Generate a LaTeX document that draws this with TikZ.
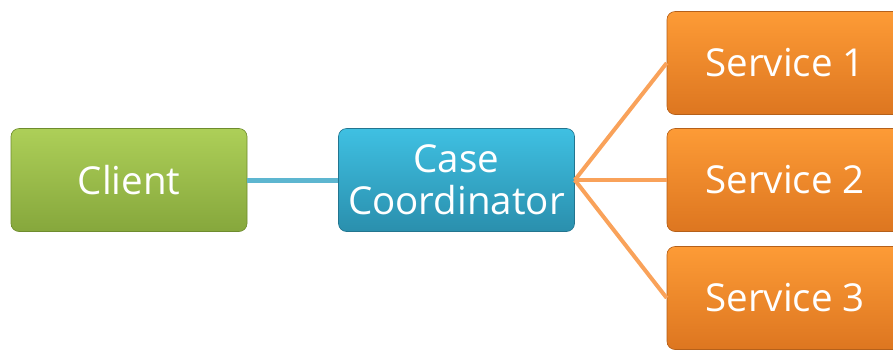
\documentclass[tikz,border=0pt]{standalone}
\usepackage{fontspec}
\setmainfont{Open Sans}
\definecolor{gtop}{HTML}{ADCF58}
\definecolor{gbot}{HTML}{86A73C}
\definecolor{gedge}{HTML}{6E8C2E}
\definecolor{btop}{HTML}{3FC0E2}
\definecolor{bbot}{HTML}{2A8FAD}
\definecolor{bedge}{HTML}{23758F}
\definecolor{otop}{HTML}{FD9B36}
\definecolor{obot}{HTML}{DD7620}
\definecolor{oedge}{HTML}{B5601A}
\definecolor{bline}{HTML}{5DB6D0}
\definecolor{oline}{HTML}{F9A25A}
\begin{document}
\begin{tikzpicture}[x=1pt,y=-1pt,
  box/.style={rounded corners=8pt, minimum width=236pt, minimum height=103pt,
    inner sep=0pt, text=white, align=center,
    font=\fontsize{38.5}{42}\selectfont},
  greenbox/.style={box, top color=gtop, bottom color=gbot, draw=gedge, line width=0.6pt},
  bluebox/.style={box, top color=btop, bottom color=bbot, draw=bedge, line width=0.6pt},
  orangebox/.style={box, top color=otop, bottom color=obot, draw=oedge, line width=0.6pt},
  bconn/.style={draw=bline, line width=5pt},
  oconn/.style={draw=oline, line width=4pt}]
\useasboundingbox (0,0) rectangle (893,349);
\begin{scope}
\clip (0,0) rectangle (893,349);
\node[greenbox] (client) at (129,180) {Client};
\node[bluebox] (coord) at (456.5,180) {Case\\Coordinator};
\node[orangebox] (s1) at (785,63) {Service 1};
\node[orangebox] (s2) at (785,180) {Service 2};
\node[orangebox] (s3) at (785,298) {Service 3};
\end{scope}
\path[bconn] (client.east) -- (coord.west);
\path[oconn] (coord.east) -- (s1.west);
\path[oconn] (coord.east) -- (s2.west);
\path[oconn] (coord.east) -- (s3.west);
\end{tikzpicture}
\end{document}
